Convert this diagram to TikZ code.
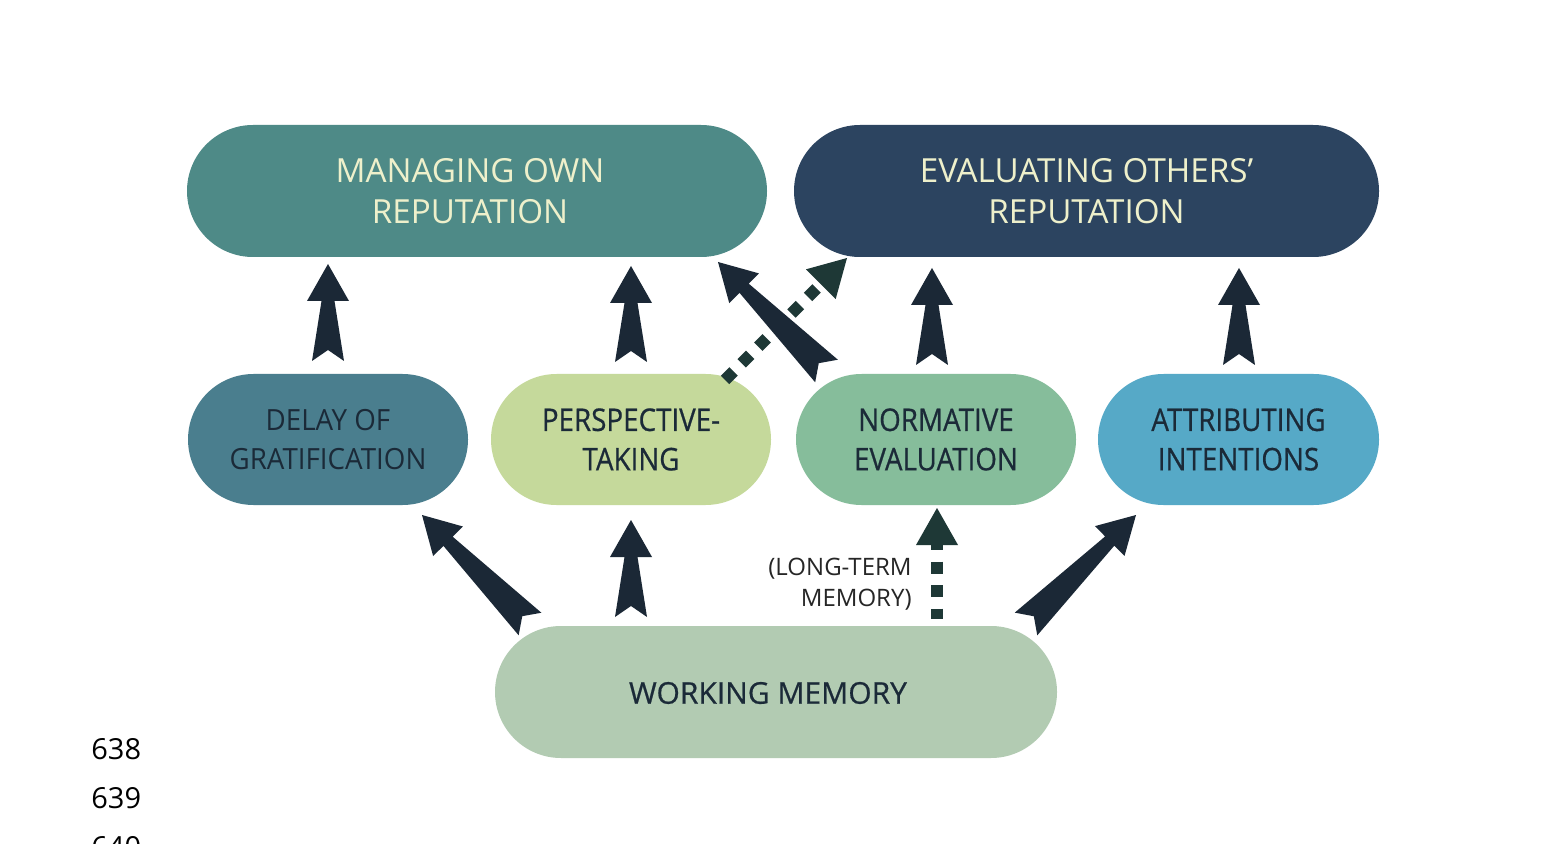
\documentclass[tikz,border=0pt]{standalone}
\usepackage{fontspec}
\setmainfont{Open Sans}
\newfontfamily\semib[FakeBold=0.6]{Open Sans}
\newfontfamily\semibn[FakeBold=0.6,FakeStretch=0.89]{Open Sans}
\newfontfamily\regn[FakeStretch=0.95]{Open Sans}
\usetikzlibrary{calc}
\definecolor{cMO}{HTML}{4E8A87}
\definecolor{cEO}{HTML}{2C4460}
\definecolor{cDG}{HTML}{4A7E8E}
\definecolor{cPT}{HTML}{C5D99B}
\definecolor{cNE}{HTML}{86BD9B}
\definecolor{cAI}{HTML}{56A9C7}
\definecolor{cWM}{HTML}{B2CBB2}
\definecolor{cream}{HTML}{EEF0CB}
\definecolor{darktxt}{HTML}{1B2A38}
\definecolor{arrowcol}{HTML}{1B2836}
\definecolor{dotcol}{HTML}{1E3836}
\newcommand{\fatarrow}[2]{%
  \coordinate (tmpB) at ($(#2)!18.5pt!(#1)$);
  \fill[arrowcol] (#2) -- ($(tmpB)!10.5pt!90:(#2)$) -- ($(tmpB)!3.25pt!90:(#2)$)
    -- ($(#1)!8pt!90:(#2)$) -- ($(#1)!5.5pt!(#2)$) -- ($(#1)!8pt!-90:(#2)$)
    -- ($(tmpB)!3.25pt!-90:(#2)$) -- ($(tmpB)!10.5pt!-90:(#2)$) -- cycle;}
\newcommand{\dotarrow}[3]{%
  \coordinate (tmpB) at ($(#2)!18.5pt!(#1)$);
  \draw[dotcol, line width=6pt, dash pattern=on 6pt off 5.75pt, dash phase=#3] (tmpB) -- (#1);
  \fill[dotcol] (#2) -- ($(tmpB)!10.5pt!90:(#2)$) -- ($(tmpB)!10.5pt!-90:(#2)$) -- cycle;}
\begin{document}
\begin{tikzpicture}[x=0.5pt,y=-0.5pt,
  bigbox/.style={rectangle, rounded corners=33pt, inner sep=0pt, minimum height=66pt,
     align=center, text=cream, font=\fontsize{16.6pt}{20.5pt}\selectfont},
  midbox/.style={rectangle, rounded corners=32.75pt, inner sep=0pt, minimum height=65.5pt,
     minimum width=140pt, align=center, text=darktxt, font=\semibn\fontsize{15.6pt}{19.7pt}\selectfont},
  numtxt/.style={anchor=base west, inner sep=0pt, text=black, font=\fontsize{14.5pt}{17pt}\selectfont}]
\useasboundingbox (0,0) rectangle (1562,844);
\clip (0,0) rectangle (1562,844);
\fill[white] (0,0) rectangle (1562,844);
% boxes
\node[bigbox, fill=cMO, minimum width=290pt,
  label={[bigbox, shift={(-7,0)}]center:MANAGING OWN\\REPUTATION}] (mo) at (477,191) {};
\node[bigbox, fill=cEO, minimum width=292.5pt] (eo) at (1086.5,191) {EVALUATING OTHERS’\\REPUTATION};
\node[midbox, fill=cDG, font=\regn\fontsize{14.6pt}{19.5pt}\selectfont] (dg) at (328,439.5) {DELAY OF\\GRATIFICATION};
\node[midbox, fill=cPT] (pt) at (631,439.5) {PERSPECTIVE-\\TAKING};
\node[midbox, fill=cNE] (ne) at (936,439.5) {NORMATIVE\\EVALUATION};
\node[midbox, fill=cAI, minimum width=140.5pt] (ai) at (1238.5,439.5) {ATTRIBUTING\\INTENTIONS};
\node[rectangle, fill=cWM, rounded corners=33pt, inner sep=0pt, minimum height=66pt, minimum width=281pt,
  label={[shift={(-8,1)}, text=darktxt, font=\semib\fontsize{15pt}{18pt}\selectfont]center:WORKING MEMORY}] (wm) at (776,692) {};
\node[anchor=east, inner sep=0pt, align=right, text=black!85,
  font=\fontsize{12pt}{15.5pt}\selectfont] (ltm) at (912,584) {(LONG-TERM\\MEMORY)};
% line numbers
\node[numtxt] (n638) at (91,759) {638};
\node[numtxt] (n639) at (91,808) {639};
\node[numtxt] (n640) at (91,857) {640};
% connector end points
\coordinate (pt-eo-t) at (724,381);  \coordinate (pt-eo-h) at (847,258);
\coordinate (wm-ne-t) at (937,619);  \coordinate (wm-ne-h) at (937,508);
\coordinate (dg-mo-t) at (328,361);  \coordinate (dg-mo-h) at (328,264);
\coordinate (pt-mo-t) at (631,362);  \coordinate (pt-mo-h) at (631,266);
\coordinate (ne-mo-t) at (826.5,371); \coordinate (ne-mo-h) at (718,262);
\coordinate (ne-eo-t) at (932,365);  \coordinate (ne-eo-h) at (932,268);
\coordinate (ai-eo-t) at (1239,365); \coordinate (ai-eo-h) at (1239,268);
\coordinate (wm-dg-t) at (530,624);  \coordinate (wm-dg-h) at (422,515);
\coordinate (wm-pt-t) at (631,617);  \coordinate (wm-pt-h) at (631,520);
\coordinate (wm-ai-t) at (1026,624); \coordinate (wm-ai-h) at (1136,515);
% dotted arrows
\dotarrow{pt-eo-t}{pt-eo-h}{8.75pt}
\dotarrow{wm-ne-t}{wm-ne-h}{3.5pt}
% solid arrows
\fatarrow{dg-mo-t}{dg-mo-h}
\fatarrow{pt-mo-t}{pt-mo-h}
\fatarrow{ne-mo-t}{ne-mo-h}
\fatarrow{ne-eo-t}{ne-eo-h}
\fatarrow{ai-eo-t}{ai-eo-h}
\fatarrow{wm-dg-t}{wm-dg-h}
\fatarrow{wm-pt-t}{wm-pt-h}
\fatarrow{wm-ai-t}{wm-ai-h}
\end{tikzpicture}
\end{document}
